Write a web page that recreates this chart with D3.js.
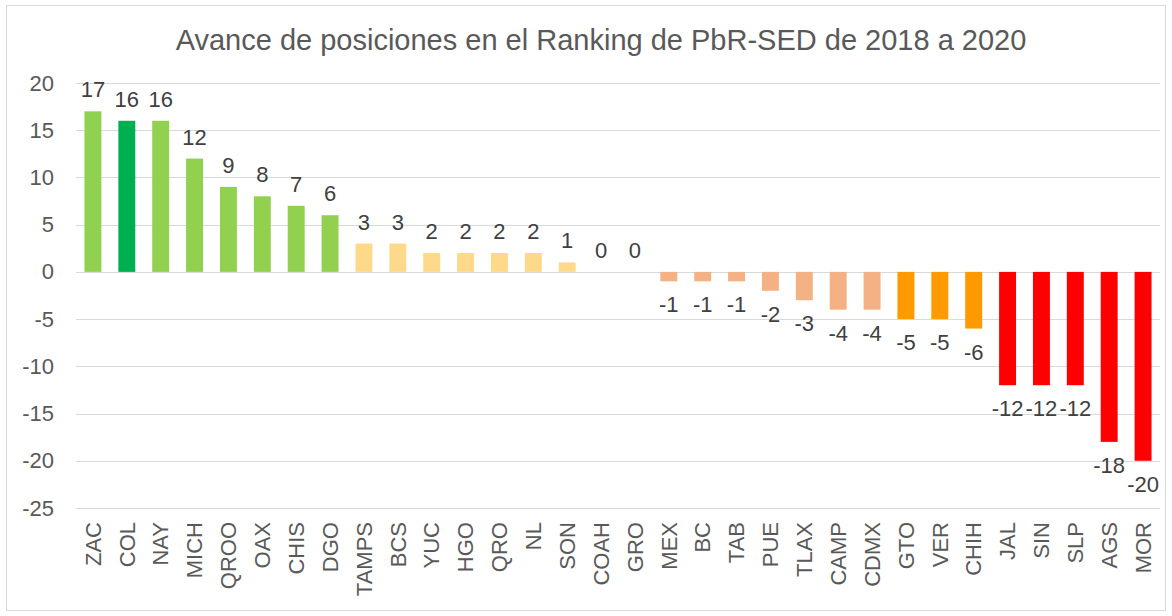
<!DOCTYPE html>
<html>
<head>
<meta charset="utf-8">
<script src="https://cdn.jsdelivr.net/npm/d3@7"></script>
<style>
  body { margin: 0; background: #fff; }
  text { font-family: "Liberation Sans", Arial, sans-serif; }
</style>
</head>
<body>
<div id="chart"></div>
<script>
var states = ["ZAC", "COL", "NAY", "MICH", "QROO", "OAX", "CHIS", "DGO", "TAMPS", "BCS", "YUC", "HGO", "QRO", "NL", "SON", "COAH", "GRO",
    "MEX", "BC", "TAB", "PUE", "TLAX", "CAMP", "CDMX", "GTO", "VER", "CHIH", "JAL", "SIN", "SLP", "AGS", "MOR"];
var avance = [17, 16, 16, 12, 9, 8, 7, 6, 3, 3, 2, 2, 2, 2, 1, 0, 0,
    -1, -1, -1, -2, -3, -4, -4, -5, -5, -6, -12, -12, -12, -18, -20];
var yTicks = [20, 15, 10, 5, 0, -5, -10, -15, -20, -25];

var svgWidth = 1172;
var svgHeight = 616;

var margin = { top: 83, right: 12, bottom: 108, left: 76 };
var chartWidth = svgWidth - margin.left - margin.right;
var chartHeight = svgHeight - margin.top - margin.bottom;

function barColor(name, v) {
    if (name === "COL") return "#00B050";
    if (v >= 5) return "#92D050";
    if (v > 0) return "#FFD98A";
    if (v >= -4) return "#F4B183";
    if (v >= -6) return "#FF9900";
    return "#FF0000";
}

var svg = d3.select("#chart")
    .append("svg")
    .attr("width", svgWidth)
    .attr("height", svgHeight);

// border
svg.append("rect")
    .attr("x", 6.5).attr("y", 5.5)
    .attr("width", svgWidth - 13).attr("height", svgHeight - 11)
    .attr("fill", "#fff")
    .attr("stroke", "#d9d9d9");

svg.append("text")
    .attr("x", 601)
    .attr("y", 50)
    .attr("text-anchor", "middle")
    .attr("font-size", "29px")
    .attr("fill", "#595959")
    .text("Avance de posiciones en el Ranking de PbR-SED de 2018 a 2020");

var chartGroup = svg.append("g").attr("transform", `translate(${margin.left}, ${margin.top})`);

var xBand = d3.scaleBand()
    .domain(states)
    .range([0, chartWidth])
    .paddingInner(0.5)
    .paddingOuter(0.25);

var yLinear = d3.scaleLinear()
    .domain([-25, 20])
    .range([425, 0]);

// gridlines
chartGroup.selectAll(".grid")
    .data(yTicks)
    .enter()
    .append("line")
    .attr("x1", 0)
    .attr("x2", chartWidth)
    .attr("y1", d => Math.round(yLinear(d)) + 0.5)
    .attr("y2", d => Math.round(yLinear(d)) + 0.5)
    .attr("stroke", "#d9d9d9")
    .attr("stroke-width", 1);

var leftAxis = d3.axisLeft(yLinear).tickValues(yTicks).tickFormat(d => String(d)).tickSize(0).tickPadding(22);
chartGroup.append("g")
    .call(leftAxis)
    .call(g => g.select(".domain").remove())
    .selectAll("text")
    .attr("font-size", "22px")
    .attr("fill", "#595959");

chartGroup.selectAll(".bar")
    .data(avance)
    .enter()
    .append("rect")
    .attr("x", (d, i) => xBand(states[i]))
    .attr("width", xBand.bandwidth())
    .attr("y", d => yLinear(Math.max(d, 0)))
    .attr("height", d => Math.abs(yLinear(d) - yLinear(0)))
    .attr("fill", (d, i) => barColor(states[i], d));

chartGroup.selectAll(".val")
    .data(avance)
    .enter()
    .append("text")
    .attr("x", (d, i) => xBand(states[i]) + xBand.bandwidth() / 2)
    .attr("y", d => d >= 0 ? yLinear(d) - 14 : yLinear(d) + 31)
    .attr("text-anchor", "middle")
    .attr("font-size", "22px")
    .attr("fill", "#404040")
    .text(d => String(d));

var bottomAxis = d3.axisBottom(xBand).tickSize(0).tickPadding(0);
chartGroup.append("g")
    .attr("transform", `translate(0, ${yLinear(-25)})`)
    .call(bottomAxis)
    .call(g => g.select(".domain").remove())
    .selectAll("text")
    .attr("font-size", "22px")
    .attr("fill", "#595959")
    .attr("text-anchor", "end")
    .attr("dy", "0.35em")
    .attr("transform", "translate(0, 14) rotate(-90)")
    .attr("x", 0)
    .attr("y", 0);
</script>
</body>
</html>
